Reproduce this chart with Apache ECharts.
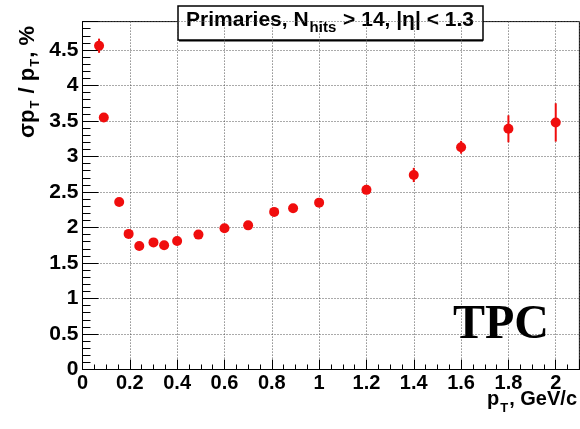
<!DOCTYPE html>
<html>
<head>
<meta charset="utf-8">
<script src="https://cdn.jsdelivr.net/npm/echarts@6/dist/echarts.min.js"></script>
<style>
  html, body { margin: 0; padding: 0; background: #fff; }
  #chart { width: 580px; height: 429px; }
</style>
</head>
<body>
<div id="chart"></div>
<script>
// Transverse momentum bins (GeV/c)
const ptValues = [0.07, 0.09, 0.155, 0.195, 0.24, 0.30, 0.345, 0.40, 0.49, 0.60, 0.70, 0.81, 0.89, 1.00, 1.20, 1.40, 1.60, 1.80, 2.00];
// Relative momentum resolution, %
const resolution = [4.56, 3.55, 2.36, 1.91, 1.74, 1.79, 1.75, 1.81, 1.90, 1.99, 2.03, 2.22, 2.27, 2.35, 2.53, 2.74, 3.13, 3.39, 3.48];
// Statistical uncertainty of each point, %
const resolutionErr = [0.10, 0.04, 0.04, 0.04, 0.03, 0.03, 0.03, 0.03, 0.03, 0.04, 0.05, 0.05, 0.05, 0.05, 0.06, 0.10, 0.09, 0.19, 0.27];

const RED = '#f00d0d';
const FONT = 'Liberation Sans, Arial, sans-serif';

const points = ptValues.map((x, i) => [x, resolution[i]]);
const bars = ptValues.map((x, i) => [x, resolution[i] - resolutionErr[i], resolution[i] + resolutionErr[i]]);

const chart = echarts.init(document.getElementById('chart'), null, { renderer: 'canvas' });

const axisCommon = {
  type: 'value',
  axisLine: { show: true, lineStyle: { color: '#000', width: 1 } },
  splitLine: { show: true, lineStyle: { color: '#555', width: 1, type: [1, 2] } },
  axisLabel: { color: '#000', fontFamily: FONT, fontWeight: 'bold', showMaxLabel: false }
};

// rich-text styles: regular glyphs plus a lowered subscript
function richStyles(size, subSize, lineH) {
  return {
    m: { fontFamily: FONT, fontWeight: 'bold', fontSize: size, fill: '#000', lineHeight: lineH, verticalAlign: 'middle' },
    s: { fontFamily: FONT, fontWeight: 'bold', fontSize: subSize, fill: '#000', lineHeight: 8, verticalAlign: 'bottom', padding: [lineH - 8, 1, 0, 1] }
  };
}

chart.setOption({
  animation: false,
  backgroundColor: '#fff',
  grid: {
    left: 82.5, right: 0.6, top: 21.6, bottom: 59.5,
    show: true, borderColor: '#000', borderWidth: 1, backgroundColor: 'transparent'
  },
  xAxis: Object.assign({}, axisCommon, {
    min: 0, max: 2.1, interval: 0.2,
    axisTick: { show: true, inside: true, length: 10, lineStyle: { color: '#000' } },
    minorTick: { show: true, splitNumber: 4, length: 5, lineStyle: { color: '#000' } },
    axisLabel: Object.assign({}, axisCommon.axisLabel, { fontSize: 20, margin: 4 })
  }),
  yAxis: Object.assign({}, axisCommon, {
    min: 0, max: 4.9, interval: 0.5,
    axisTick: { show: true, inside: true, length: 16, lineStyle: { color: '#000' } },
    minorTick: { show: true, splitNumber: 5, length: 8, lineStyle: { color: '#000' } },
    axisLabel: Object.assign({}, axisCommon.axisLabel, { fontSize: 21, margin: 4 })
  }),
  series: [
    {
      type: 'custom',
      data: bars,
      z: 3,
      renderItem: function (params, api) {
        const top = api.coord([api.value(0), api.value(2)]);
        const bottom = api.coord([api.value(0), api.value(1)]);
        return {
          type: 'line',
          shape: { x1: top[0], y1: top[1], x2: bottom[0], y2: bottom[1] },
          style: { stroke: RED, lineWidth: 2 }
        };
      }
    },
    {
      type: 'scatter',
      data: points,
      symbol: 'circle',
      symbolSize: 10,
      z: 4,
      itemStyle: { color: RED, opacity: 1 }
    }
  ],
  graphic: [
    {
      type: 'group',
      z: 20,
      children: [
        {
          type: 'rect',
          shape: { x: 178, y: 6, width: 305, height: 34 },
          style: { fill: '#fff', stroke: '#000', lineWidth: 1.5 }
        },
        {
          type: 'rect',
          shape: { x: 179, y: 40, width: 304, height: 1.5 },
          style: { fill: '#000' }
        },
        {
          type: 'text',
          x: 330, y: 20,
          style: {
            text: '{m|Primaries, N}{s|hits}{m| > 14, |η| < 1.3}',
            align: 'center', verticalAlign: 'middle',
            rich: richStyles(21, 15, 30)
          }
        }
      ]
    },
    {
      type: 'text',
      z: 20,
      x: 28, y: 82,
      rotation: Math.PI / 2,
      style: {
        text: '{m|σp}{s|T}{m| / p}{s|T}{m|, %}',
        align: 'center', verticalAlign: 'middle',
        rich: richStyles(22, 13, 28)
      }
    },
    {
      type: 'text',
      z: 20,
      x: 577, y: 399,
      style: {
        text: '{m|p}{s|T}{m|, GeV/c}',
        align: 'right', verticalAlign: 'middle',
        rich: richStyles(20, 13, 32)
      }
    },
    {
      type: 'text',
      z: 20,
      x: 501, y: 326,
      style: {
        text: 'TPC',
        align: 'center', verticalAlign: 'middle',
        fontFamily: 'Liberation Serif, Times New Roman, serif',
        fontWeight: 'bold', fontSize: 48, fill: '#000'
      }
    }
  ]
});
</script>
</body>
</html>
